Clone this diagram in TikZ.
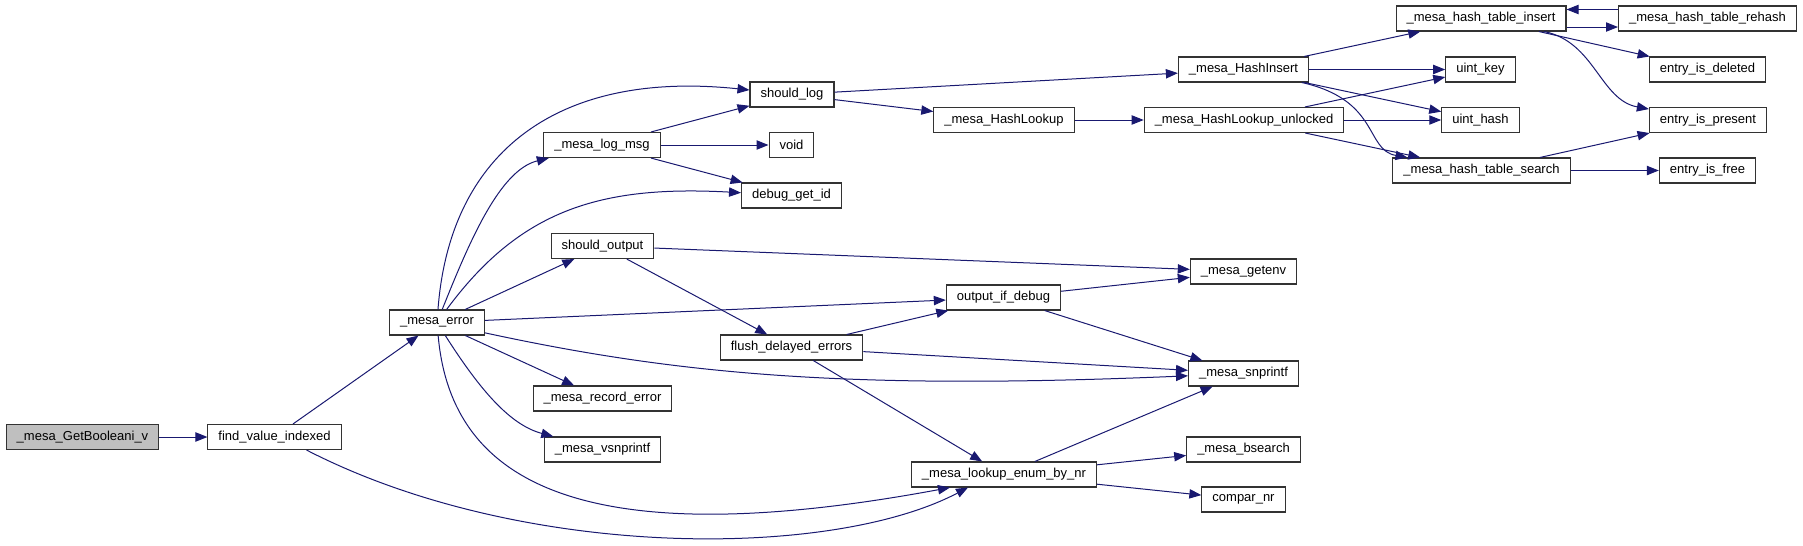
\documentclass[tikz,border=0pt]{standalone}
\usepackage{fontspec}
\setmainfont{Liberation Sans}
\usetikzlibrary{arrows.meta}

\definecolor{edgeblue}{HTML}{191970}
\definecolor{rootgray}{HTML}{BFBFBF}

\begin{document}
\begin{tikzpicture}[
    x=0.75pt, y=-0.75pt,
    >={Triangle[length=9pt,width=7pt]},
    fn/.style={
        rectangle, draw=black!80, line width=0.8pt, fill=white,
        minimum height=18.75pt, inner xsep=7.9pt, inner ysep=0pt,
        font=\fontsize{9.75}{11}\selectfont
    },
    root/.style={fn, fill=rootgray},
    call/.style={->, line width=0.75pt, color=edgeblue}
]
    \useasboundingbox (0,0) rectangle (1803,546);

    % Nodes
    \node[root] (getb) at (82.5,437) {\_mesa\_GetBooleani\_v};
    \node[fn] (find) at (274.5,437) {find\_value\_indexed};
    \node[fn] (error) at (437,322.5) {\_mesa\_error};

    \node[fn] (logmsg) at (602,145) {\_mesa\_log\_msg};
    \node[fn] (shouldout) at (602.5,246) {should\_output};
    \node[fn] (record) at (602.5,398.5) {\_mesa\_record\_error};
    \node[fn] (vsnp) at (602.5,449.5) {\_mesa\_vsnprintf};

    \node[fn] (shouldlog) at (792,94.5) {should\_log};
    \node[fn] (void) at (791.5,145) {void};
    \node[fn] (dbgid) at (791.5,195.5) {debug\_get\_id};
    \node[fn] (flush) at (791.5,347.5) {flush\_delayed\_errors};

    \node[fn] (hlook) at (1004,120) {\_mesa\_HashLookup};
    \node[fn] (outdbg) at (1003.5,297.5) {output\_if\_debug};
    \node[fn] (lookup) at (1004,474.5) {\_mesa\_lookup\_enum\_by\_nr};

    \node[fn] (hins) at (1243.5,69.5) {\_mesa\_HashInsert};
    \node[fn] (unlocked) at (1244,120) {\_mesa\_HashLookup\_unlocked};
    \node[fn] (getenv) at (1243.5,271.5) {\_mesa\_getenv};
    \node[fn] (snprintf) at (1243.5,373.5) {\_mesa\_snprintf};
    \node[fn] (bsearch) at (1243.5,449.5) {\_mesa\_bsearch};
    \node[fn] (compar) at (1243.5,499.5) {compar\_nr};

    \node[fn] (tins) at (1481,18.5) {\_mesa\_hash\_table\_insert};
    \node[fn] (ukey) at (1480.5,69.5) {uint\_key};
    \node[fn] (uhash) at (1480.5,120) {uint\_hash};
    \node[fn] (search) at (1481.5,170.5) {\_mesa\_hash\_table\_search};

    \node[fn] (rehash) at (1707.5,18.5) {\_mesa\_hash\_table\_rehash};
    \node[fn] (deleted) at (1707.5,69.5) {entry\_is\_deleted};
    \node[fn] (present) at (1708,120) {entry\_is\_present};
    \node[fn] (efree) at (1707.5,170.5) {entry\_is\_free};

    % Connections
    \draw[call] (getb) -- (find);
    \draw[call] (find) -- (error);
    \draw[call] ([xshift=24pt]find.south) .. controls (520,560) and (830,560) .. ([xshift=-27pt]lookup.south);

    \draw[call] (error) .. controls (450,150) and (560,70) .. (shouldlog);
    \draw[call] (error) .. controls (470,240) and (500,170) .. (logmsg);
    \draw[call] (error) .. controls (520,210) and (600,185) .. (dbgid);
    \draw[call] (error) -- (shouldout);
    \draw[call] (error) -- (outdbg);
    \draw[call] (error) .. controls (680,375) and (850,390) .. (snprintf);
    \draw[call] (error) -- (record);
    \draw[call] (error) .. controls (480,390) and (510,425) .. (vsnp);
    \draw[call] (error) .. controls (450,470) and (560,560) .. ([xshift=-40.5pt]lookup.south);

    \draw[call] (logmsg) -- (shouldlog);
    \draw[call] (logmsg) -- (void);
    \draw[call] (logmsg) -- (dbgid);

    \draw[call] (shouldlog) -- (hins);
    \draw[call] (shouldlog) -- (hlook);

    \draw[call] (shouldout) -- (getenv);
    \draw[call] (shouldout) -- (flush);

    \draw[call] (flush) -- (outdbg);
    \draw[call] (flush) -- (snprintf);
    \draw[call] (flush) -- (lookup);

    \draw[call] (outdbg) -- (getenv);
    \draw[call] (outdbg) -- (snprintf);

    \draw[call] (lookup) -- (snprintf);
    \draw[call] (lookup) -- (bsearch);
    \draw[call] (lookup) -- (compar);

    \draw[call] (hlook) -- (unlocked);
    \draw[call] (unlocked) -- (ukey);
    \draw[call] (unlocked) -- (uhash);
    \draw[call] (unlocked) -- (search);

    \draw[call] (hins) -- (tins);
    \draw[call] (hins) -- (ukey);
    \draw[call] (hins) -- (uhash);
    \draw[call] (hins) .. controls (1380,100) and (1365,150) .. (search);

    \draw[call] ([yshift=-6.4pt]tins.east) -- ([yshift=-6.4pt]rehash.west);
    \draw[call] ([yshift=6.75pt]rehash.west) -- ([yshift=6.75pt]tins.east);
    \draw[call] (tins) -- (deleted);
    \draw[call] (tins) .. controls (1595,42) and (1600,100) .. (present);

    \draw[call] (search) -- (present);
    \draw[call] (search) -- (efree);

\end{tikzpicture}
\end{document}
